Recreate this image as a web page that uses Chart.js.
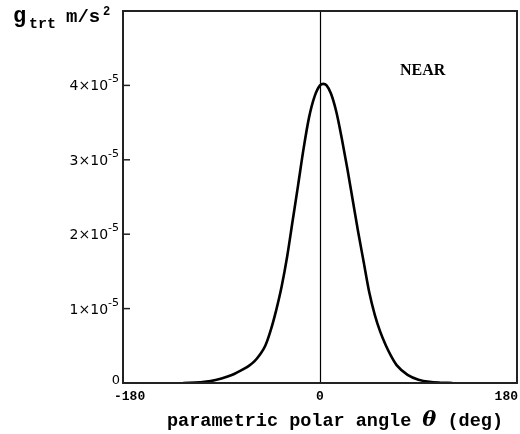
<!DOCTYPE html>
<html>
<head>
<meta charset="utf-8">
<script src="https://cdn.jsdelivr.net/npm/chart.js@4/dist/chart.umd.min.js"></script>
<style>
  html, body { margin: 0; padding: 0; background: #fff; }
  #wrap { width: 520px; height: 434px; }
</style>
</head>
<body>
<div id="wrap"><canvas id="chart" width="520" height="434"></canvas></div>
<script>
// polar angle (deg) and g_trt in units of 1e-5 m/s^2
const angles = [-125, -110, -100, -90, -80, -70, -65, -60, -55, -50, -45, -40, -35, -30, -25, -20, -15, -10, -5, 0, 3, 6, 10, 15, 20, 25, 30, 35, 40, 45, 50, 55, 60, 65, 70, 80, 90, 100, 110, 121]
const gTrt = [0, 0.01, 0.025, 0.06, 0.11, 0.185, 0.23, 0.29, 0.38, 0.50, 0.71, 0.98, 1.30, 1.70, 2.18, 2.66, 3.15, 3.57, 3.85, 4.0, 4.02, 4.0, 3.89, 3.64, 3.28, 2.88, 2.45, 2.02, 1.62, 1.22, 0.92, 0.69, 0.51, 0.36, 0.24, 0.11, 0.045, 0.015, 0.004, 0]

const xTicks = [-180, 0, 180]
const yTicks = [0, 1, 2, 3, 4]
const label = "NEAR"

const mono = "'Liberation Mono', 'Courier New', monospace"

const drawDecor = {
  id: "decor",
  afterDatasetsDraw(chart) {
    const ctx = chart.ctx
    const x = chart.scales.x
    const y = chart.scales.y
    const a = chart.chartArea
    ctx.save()

    // zero line
    ctx.strokeStyle = "#000"
    ctx.lineWidth = 1.2
    ctx.beginPath()
    const x0 = Math.round(x.getPixelForValue(0)) + 0.5
    ctx.moveTo(x0, a.top)
    ctx.lineTo(x0, a.bottom)
    ctx.stroke()

    // frame
    ctx.strokeStyle = "#222"
    ctx.lineWidth = 2
    ctx.strokeRect(a.left, a.top, a.right - a.left, a.bottom - a.top)

    // y ticks + labels
    ctx.fillStyle = "#000"
    ctx.textBaseline = "alphabetic"
    yTicks.forEach(v => {
      const py = y.getPixelForValue(v)
      if (v === 0) {
        ctx.font = "13px 'DejaVu Sans', sans-serif"
        ctx.textAlign = "right"
        ctx.fillText("0", a.left - 3, py + 1)
        return
      }
      ctx.beginPath()
      ctx.lineWidth = 1.5
      ctx.moveTo(a.left, py)
      ctx.lineTo(a.left + 7, py)
      ctx.stroke()
      ctx.textAlign = "left"
      ctx.font = "11px 'DejaVu Sans', sans-serif"
      const sup = "-5"
      const supW = ctx.measureText(sup).width
      ctx.font = "14px 'DejaVu Sans', sans-serif"
      const base = v + "×10"
      const baseW = ctx.measureText(base).width
      const right = a.left - 4
      ctx.fillText(base, right - supW - baseW, py + 5)
      ctx.font = "11px 'DejaVu Sans', sans-serif"
      ctx.fillText(sup, right - supW, py - 3)
    })

    // x tick labels
    ctx.font = "bold 13px " + mono
    xTicks.forEach((v, i) => {
      const px = x.getPixelForValue(v)
      ctx.textAlign = i === 0 ? "left" : (i === xTicks.length - 1 ? "right" : "center")
      ctx.fillText(String(v), i === 0 ? px - 9 : (i === xTicks.length - 1 ? px + 1 : px), a.bottom + 17)
    })

    // x title
    const parts = [
      ["parametric polar angle ", "bold 18.5px " + mono, 0],
      ["θ", "italic bold 21px 'DejaVu Serif', serif", 0],
      [" (deg)", "bold 18.5px " + mono, 0]
    ]
    let total = 0
    parts.forEach(p => { ctx.font = p[1]; p[2] = ctx.measureText(p[0]).width; total += p[2] })
    let cx = 335 - total / 2
    ctx.textAlign = "left"
    parts.forEach(p => { ctx.font = p[1]; ctx.fillText(p[0], cx, 426); cx += p[2] })

    // y title
    ctx.font = "bold 22px " + mono
    ctx.fillText("g", 13, 22)
    ctx.font = "bold 15px " + mono
    ctx.fillText("trt", 29, 28)
    ctx.font = "bold 19px " + mono
    ctx.fillText("m/s", 66, 22)
    ctx.font = "bold 12px " + mono
    ctx.fillText("2", 103, 15)

    // panel label
    ctx.font = "bold 16px 'Liberation Serif', serif"
    ctx.textAlign = "left"
    ctx.fillText(label, 400, 75)

    ctx.restore()
  }
}

new Chart(document.getElementById("chart"), {
  type: "line",
  data: {
    datasets: [{
      data: angles.map((a, i) => ({ x: a, y: gTrt[i] })),
      borderColor: "#000",
      borderWidth: 2.6,
      pointRadius: 0,
      cubicInterpolationMode: "monotone",
      fill: false
    }]
  },
  options: {
    responsive: false,
    animation: false,
    layout: { padding: { left: 123, right: 3, top: 11, bottom: 51 } },
    plugins: { legend: { display: false }, tooltip: { enabled: false } },
    scales: {
      x: { type: "linear", min: -180, max: 180, display: false },
      y: { type: "linear", min: 0, max: 5, display: false }
    }
  },
  plugins: [drawDecor]
})
</script>
</body>
</html>
